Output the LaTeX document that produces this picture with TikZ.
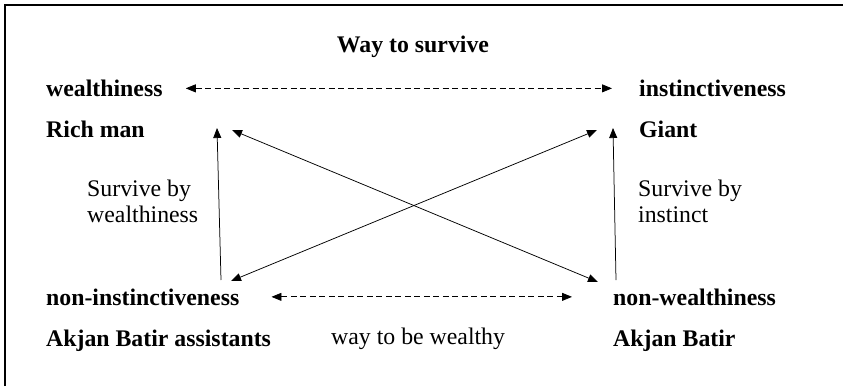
\documentclass[tikz,border=0pt]{standalone}
\usepackage{fontspec}
\setmainfont{Liberation Serif}
\usetikzlibrary{arrows.meta}
\usetikzlibrary{positioning}
\tikzstyle{term} = [font=\fontsize{23.8}{26}\selectfont\bfseries, inner sep=0pt, anchor=base west]
\tikzstyle{note} = [font=\fontsize{23.8}{26}\selectfont, inner sep=0pt, anchor=base west, align=left]
\tikzstyle{way} = [line width=0.8pt, dash pattern=on 6pt off 3.5pt, {Triangle[length=10pt,width=8pt]}-{Triangle[length=10pt,width=8pt]}]
\tikzstyle{cross} = [line width=0.75pt, {Triangle[length=10pt,width=8pt]}-{Triangle[length=10pt,width=8pt]}]
\tikzstyle{rise} = [line width=0.75pt, -{Triangle[length=10pt,width=8pt]}]

\begin{document}
\begin{tikzpicture}[x=1pt,y=-1pt]

\useasboundingbox (0,0) rectangle (843,386);
\draw[line width=2.5pt] (5,386) -- (5,5) -- (843,5);

 \node (title) [term, anchor=base] at (413,52) {Way to survive};

 \node (wealth) [term] at (46,96.5) {wealthiness};
 \node (instinct) [term] at (639,96.5) {instinctiveness};
 \node (rich) [term] at (46,137) {Rich man};
 \node (giant) [term] at (639,137) {Giant};

 \node (byw) [note] at (87,222) {Survive by\\wealthiness};
 \node (byi) [note] at (638,222) {Survive by\\instinct};

 \node (noninst) [term] at (46,305) {non-instinctiveness};
 \node (nonwealth) [term] at (613,305) {non-wealthiness};
 \node (assist) [term] at (46,346) {Akjan Batir assistants};
 \node (wealthy) [note] at (331,344) {way to be wealthy};
 \node (akjan) [term] at (613,346) {Akjan Batir};

 % ends of the solid arrows
 \coordinate (richup) at (217,128);
 \coordinate (richside) at (232,130);
 \coordinate (giantup) at (613,128);
 \coordinate (giantside) at (597,130);
 \coordinate (instfoot) at (221,280);
 \coordinate (instside) at (231,281);
 \coordinate (wealthfoot) at (616,280);
 \coordinate (wealthside) at (598,282);

 \draw[way] ([xshift=23pt]wealth.east) -- ([xshift=-27pt]instinct.west);
 \draw[way] ([xshift=32pt]noninst.east) -- ([xshift=-41pt]nonwealth.west);

 \draw[rise] (instfoot) -- (richup);
 \draw[rise] (wealthfoot) -- (giantup);
 \draw[cross] (richside) -- (wealthside);
 \draw[cross] (instside) -- (giantside);

\end{tikzpicture}
\end{document}
